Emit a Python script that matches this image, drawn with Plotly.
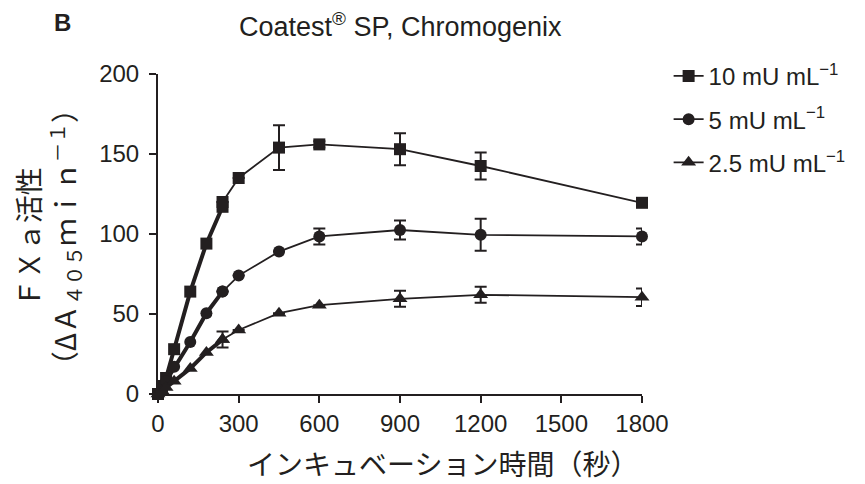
import plotly.graph_objects as go

# Early (dense) sampling, drawn with heavy line
t_early = [0, 15, 30, 60, 120, 180, 240]
# Later sampling, drawn with thin line
t_late = [240, 300, 450, 600, 900, 1200, 1800]

series = ["10 mU mL<sup>−1</sup>", "5 mU mL<sup>−1</sup>", "2.5 mU mL<sup>−1</sup>"]
symbols = ["square", "circle", "triangle-up"]

y10_early = [0, 5, 10, 28, 64, 94, 117]
y10_late = [120, 135, 154, 156, 153, 142.5, 119.5]
e10_late = [None, None, 14, 2, 10, 8.5, None]

y5_early = [0, 4, 8, 17, 32.5, 50.5, 64]
y5_late = [64, 74, 89, 98.5, 102.5, 99.5, 98.5]
e5_late = [None, None, None, 5, 6, 10, 5]

y25_early = [0, 2, 4, 8, 16, 26, 34]
y25_late = [34, 40, 50.5, 55.5, 59.5, 62, 60.5]
e25_late = [5, None, None, None, 5, 5, 5.5]

early = [y10_early, y5_early, y25_early]
late = [y10_late, y5_late, y25_late]
errs = [e10_late, e5_late, e25_late]

black = "#231f20"
msize = [12, 12, 13]

fig = go.Figure()
for i in range(3):
    fig.add_trace(go.Scatter(
        x=t_early, y=early[i], mode="lines+markers",
        line=dict(color=black, width=4),
        marker=dict(symbol=symbols[i], size=msize[i], color=black),
        showlegend=False, legendgroup=f"g{i}", cliponaxis=False,
    ))
    fig.add_trace(go.Scatter(
        x=t_late, y=late[i], mode="lines+markers", name=series[i],
        line=dict(color=black, width=1.8),
        marker=dict(symbol=symbols[i], size=msize[i], color=black),
        error_y=dict(type="data", array=errs[i], visible=True,
                     color=black, thickness=2, width=6),
        legendgroup=f"g{i}", cliponaxis=False,
    ))

axis_font = dict(family="Liberation Sans, Arial, sans-serif", size=24, color=black)

# page body has an 8px margin, so the figure is sized 8px smaller each way
fig.update_layout(
    width=857, height=476,
    margin=dict(l=150, r=223, t=66, b=90),
    plot_bgcolor="white", paper_bgcolor="white",
    showlegend=True,
    legend=dict(x=1.055, y=1.063, xanchor="left", yanchor="top",
                font=dict(family="Liberation Sans, Arial, sans-serif", size=24, color=black),
                tracegroupgap=9, bgcolor="rgba(0,0,0,0)"),
    xaxis=dict(range=[0, 1800], tickvals=[0, 300, 600, 900, 1200, 1500, 1800],
               showline=True, linecolor=black, linewidth=2, ticks="outside",
               ticklen=7, tickwidth=2, tickcolor=black, showgrid=False,
               zeroline=False, tickfont=axis_font),
    yaxis=dict(range=[0, 200], tickvals=[0, 50, 100, 150, 200],
               showline=True, linecolor=black, linewidth=2, ticks="outside",
               ticklen=7, tickwidth=2, tickcolor=black, showgrid=False,
               zeroline=False, tickfont=axis_font, ticklabelstandoff=5),
)

jp_font = dict(family="Noto Sans CJK JP, sans-serif", size=28, color=black)

fig.add_annotation(text="ＦＸａ活性<br>（ΔＡ<sub>４０５</sub>ｍｉｎ<sup>－１</sup>）",
                   xref="paper", yref="paper", x=-0.227, y=0.49,
                   xanchor="center", yanchor="middle", textangle=-90,
                   showarrow=False, font=jp_font)
fig.add_annotation(text="インキュベーション時間（秒）",
                   xref="paper", yref="paper", x=0.587, y=-0.217,
                   xanchor="center", yanchor="middle",
                   showarrow=False, font=jp_font)
fig.add_annotation(text="Coatest<sup>®</sup> SP, Chromogenix",
                   xref="paper", yref="paper", x=0.502, y=1.153,
                   xanchor="center", yanchor="middle", showarrow=False,
                   font=dict(family="Liberation Sans, Arial, sans-serif", size=27, color=black))
fig.add_annotation(text="<b>B</b>",
                   xref="paper", yref="paper", x=-0.198, y=1.16,
                   xanchor="center", yanchor="middle", showarrow=False,
                   font=dict(family="Liberation Sans, Arial, sans-serif", size=24, color=black))

fig.write_html("out.html")
